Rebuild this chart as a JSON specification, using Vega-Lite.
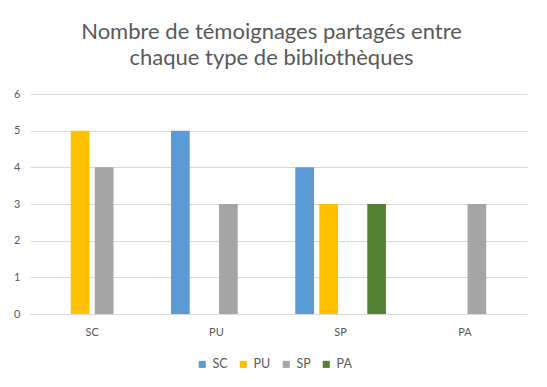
{
  "$schema": "https://vega.github.io/schema/vega-lite/v6.json",
  "width": 497,
  "height": 220,
  "autosize": {"type": "none"},
  "padding": {"left": 30, "top": 94, "right": 20, "bottom": 73},
  "background": "white",
  "title": {
    "text": ["Nombre de témoignages partagés entre", "chaque type de bibliothèques"],
    "font": "Lato",
    "fontSize": 22,
    "fontWeight": "normal",
    "color": "#595959",
    "anchor": "middle",
    "lineHeight": 26,
    "offset": 18,
    "dx": -7
  },
  "data": {
    "values": [
      {"type": "SC", "serie": "SC", "n": 0},
      {"type": "SC", "serie": "PU", "n": 5},
      {"type": "SC", "serie": "SP", "n": 4},
      {"type": "SC", "serie": "PA", "n": 0},
      {"type": "PU", "serie": "SC", "n": 5},
      {"type": "PU", "serie": "PU", "n": 0},
      {"type": "PU", "serie": "SP", "n": 3},
      {"type": "PU", "serie": "PA", "n": 0},
      {"type": "SP", "serie": "SC", "n": 4},
      {"type": "SP", "serie": "PU", "n": 3},
      {"type": "SP", "serie": "SP", "n": 0},
      {"type": "SP", "serie": "PA", "n": 3},
      {"type": "PA", "serie": "SC", "n": 0},
      {"type": "PA", "serie": "PU", "n": 0},
      {"type": "PA", "serie": "SP", "n": 3},
      {"type": "PA", "serie": "PA", "n": 0}
    ]
  },
  "mark": {"type": "bar"},
  "encoding": {
    "x": {
      "field": "type",
      "type": "nominal",
      "sort": ["SC", "PU", "SP", "PA"],
      "scale": {"paddingInner": 0.27, "paddingOuter": 0.135},
      "axis": {
        "title": null,
        "labelAngle": 0,
        "labelFont": "Lato",
        "labelFontSize": 11,
        "labelColor": "#595959",
        "labelPadding": 12,
        "ticks": false,
        "domainColor": "#D9D9D9",
        "domainWidth": 1
      }
    },
    "xOffset": {
      "field": "serie",
      "type": "nominal",
      "sort": ["SC", "PU", "SP", "PA"],
      "scale": {"paddingInner": 0.22, "paddingOuter": 0}
    },
    "y": {
      "field": "n",
      "type": "quantitative",
      "scale": {"domain": [0, 6]},
      "axis": {
        "title": null,
        "values": [0, 1, 2, 3, 4, 5, 6],
        "labelFont": "Lato",
        "labelFontSize": 11,
        "labelColor": "#595959",
        "labelPadding": 10,
        "ticks": false,
        "domain": false,
        "gridColor": "#D9D9D9",
        "gridWidth": 1
      }
    },
    "color": {
      "field": "serie",
      "type": "nominal",
      "sort": ["SC", "PU", "SP", "PA"],
      "scale": {
        "domain": ["SC", "PU", "SP", "PA"],
        "range": ["#5B9BD5", "#FFC000", "#A5A5A5", "#548235"]
      },
      "legend": {
        "title": null,
        "orient": "none",
        "direction": "horizontal",
        "legendX": 166,
        "legendY": 264,
        "symbolType": "square",
        "symbolSize": 50,
        "symbolStrokeWidth": 0,
        "labelFont": "Lato",
        "labelFontSize": 12.5,
        "labelColor": "#595959",
        "labelOffset": 4,
        "columnPadding": 9
      }
    }
  },
  "config": {
    "view": {"stroke": null}
  }
}
